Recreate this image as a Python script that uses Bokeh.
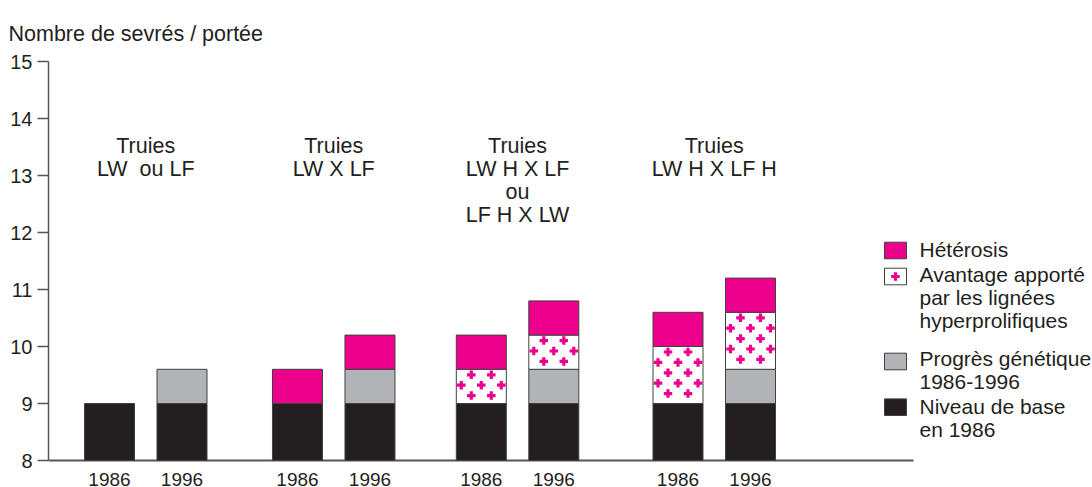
import numpy as np
from bokeh.plotting import figure
from bokeh.models import FixedTicker, Range1d
from bokeh.core.properties import value
from bokeh.embed import file_html
from bokeh.resources import INLINE

# ---------------- data ----------------
group_labels = ["Truies\nLW\u00a0 ou LF", "Truies\nLW X LF",
                "Truies\nLW H X LF\nou\nLF H X LW", "Truies\nLW H X LF H"]
years = ["1986", "1996"]
# per bar (group x year)
base_level = [9.0, 9.0, 9.0, 9.0, 9.0, 9.0, 9.0, 9.0]        # Niveau de base en 1986
genetic_gain = [0.0, 0.6, 0.0, 0.6, 0.0, 0.6, 0.0, 0.6]      # Progrès génétique 1986-1996
hyper_gain = [0.0, 0.0, 0.0, 0.0, 0.6, 0.6, 1.0, 1.0]        # Avantage lignées hyperprolifiques
heterosis_gain = [0.0, 0.0, 0.6, 0.6, 0.6, 0.6, 0.6, 0.6]    # Hétérosis
y_ticks = [8, 9, 10, 11, 12, 13, 14, 15]
legend_labels = ["Hétérosis", "Avantage apporté\npar les lignées\nhyperprolifiques",
                 "Progrès génétique\n1986-1996", "Niveau de base\nen 1986"]
y_title = "Nombre de sevrés / portée"

# ---------------- styles / layout ----------------
MAGENTA = "#EC008C"
GREY = "#B1B3B6"
BLACK = "#231F20"
OUTLINE = "#404040"
AXIS = "#555555"
FONT = "Liberation Sans"

W, H = 1092, 487
BL, BT = 48, 61                 # left / top borders
FW, FH = W - BL, H - BT          # frame size
PX_X = 189.5                     # pixels per group unit
PX_Y = 57.0                      # pixels per y unit
X0 = -(145.25 - BL) / PX_X
X1 = X0 + FW / PX_X
Y1 = 15.0
Y0 = Y1 - FH / PX_Y

GROUP_POS = [0.0, 0.992, 1.962, 3.0]
HALF_GAP = 36.25 / PX_X
BAR_W = 50.0 / PX_X


def X(px):  # page pixel -> data x
    return X0 + (px - BL) / PX_X


def Y(py):  # page pixel -> data y
    return Y1 - (py - BT) / PX_Y


bar_x = []
for g in GROUP_POS:
    bar_x += [g - HALF_GAP, g + HALF_GAP]
bar_x = np.array(bar_x)
ymin = y_ticks[0]

base = np.array(base_level)
gen = np.array(genetic_gain)
hyp = np.array(hyper_gain)
het = np.array(heterosis_gain)

b0 = np.full_like(base, ymin)
b1 = base
g1 = b1 + gen
h1 = g1 + hyp
t1 = h1 + het

p = figure(width=W, height=H, output_backend="svg", toolbar_location=None,
           x_range=Range1d(X0, X1), y_range=Range1d(Y0, Y1),
           x_axis_location=None, min_border_left=BL, min_border_right=0,
           min_border_top=BT, min_border_bottom=0)
p.outline_line_color = None
p.grid.visible = False
p.background_fill_color = "white"
p.border_fill_color = "white"

# caption above the y axis
p.title.text = y_title
p.title.text_font = FONT
p.title.text_font_size = "21.5px"
p.title.text_font_style = "normal"
p.title.text_color = BLACK
p.title.align = "left"
p.title.vertical_align = "top"
p.title.standoff = 28
p.title.offset = -40

# y axis
ya = p.yaxis[0]
ya.ticker = FixedTicker(ticks=y_ticks)
ya.bounds = (y_ticks[0], y_ticks[-1])
ya.major_label_text_font = FONT
ya.major_label_text_font_size = "20px"
ya.major_label_text_color = BLACK
ya.major_tick_out = 11
ya.major_tick_in = 0
ya.minor_tick_line_color = None
ya.major_label_standoff = 5
ya.axis_line_color = AXIS
ya.axis_line_width = 1.5
ya.major_tick_line_color = AXIS
ya.major_tick_line_width = 1.5

# x axis line (drawn in frame)
p.segment(x0=[X0], y0=[ymin], x1=[X(913)], y1=[ymin], line_color=AXIS, line_width=2)


def stack(bottom, top, color):
    m = top > bottom
    p.quad(left=(bar_x - BAR_W / 2)[m], right=(bar_x + BAR_W / 2)[m],
           bottom=bottom[m], top=top[m], fill_color=color,
           line_color=OUTLINE, line_width=1)


stack(b0, b1, BLACK)
stack(b1, g1, GREY)
stack(g1, h1, "white")
stack(h1, t1, MAGENTA)

# plus pattern in hyper segments
px_, py_ = [], []
for i in range(len(bar_x)):
    if h1[i] <= g1[i]:
        continue
    left = bar_x[i] - BAR_W / 2
    seg_px = (h1[i] - g1[i]) * PX_Y
    r = 0
    dy = 5.5
    while dy < seg_px - 3:
        offs = [15, 35] if r % 2 == 0 else [5, 25, 45]
        for o in offs:
            px_.append(left + o / PX_X)
            py_.append(h1[i] - dy / PX_Y)
        r += 1
        dy += 10.4
p.scatter(x=px_, y=py_, marker="plus", size=8.5, fill_color=MAGENTA, line_color=None)

# group labels
p.text(x=GROUP_POS, y=[Y(133)] * 4, text=group_labels,
       text_font=value(FONT), text_font_size=value("21.5px"), text_color=BLACK,
       text_align="center", text_baseline="top", text_line_height=0.96)

# year labels
p.text(x=bar_x, y=[Y(472)] * len(bar_x), text=years * 4,
       text_font=value(FONT), text_font_size=value("19px"), text_color=BLACK,
       text_align="center", text_baseline="top")

# legend (manual)
sw_l, sw_r = X(884), X(906)
box_centers = [250, 276, 361, 406.7]
fills = [MAGENTA, "white", GREY, BLACK]
for c, f in zip(box_centers, fills):
    p.quad(left=[sw_l], right=[sw_r], bottom=[Y(c + 8.3)], top=[Y(c - 8.3)],
           fill_color=f, line_color=OUTLINE, line_width=1)
p.scatter(x=[(sw_l + sw_r) / 2], y=[Y(276)], marker="plus", size=8.5,
          fill_color=MAGENTA, line_color=None)
text_tops = [250 - 12.2, 275 - 12.2, 359 - 12.2, 407 - 12.2]
p.text(x=[X(919)] * 4, y=[Y(t) for t in text_tops], text=legend_labels,
       text_font=value(FONT), text_font_size=value("21px"), text_color=BLACK,
       text_align="left", text_baseline="top", text_line_height=1.0)

open("out.html", "w").write(file_html(p, INLINE))
